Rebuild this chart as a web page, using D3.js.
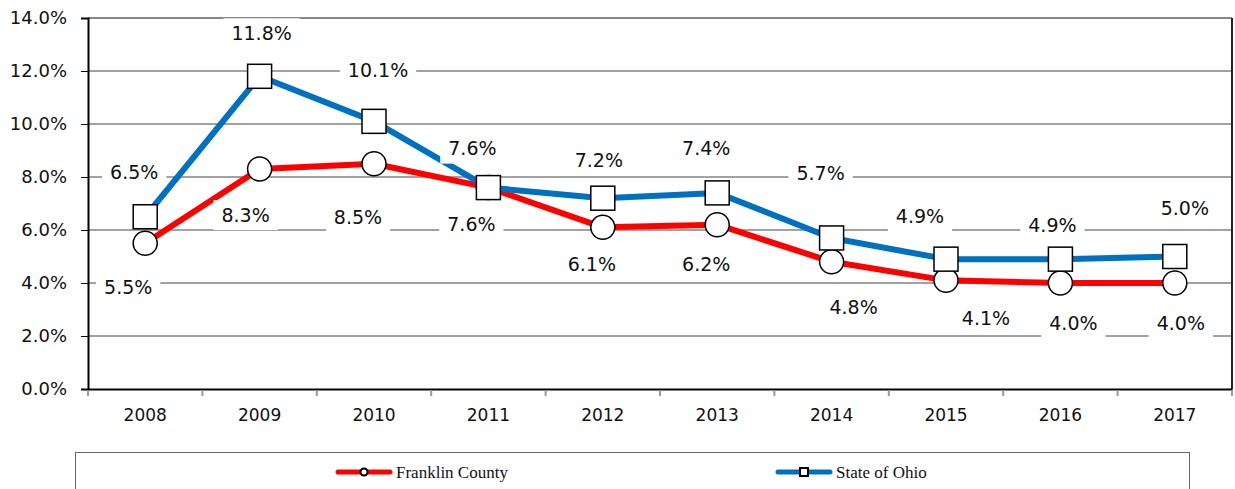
<!DOCTYPE html>
<html>
<head>
<meta charset="utf-8">
<script src="https://cdn.jsdelivr.net/npm/d3@7"></script>
<style>
  body { margin: 0; background: #fff; }
  svg { display: block; }
</style>
</head>
<body>
<div id="chart"></div>
<script>
// chart data
var years = ['2008', '2009', '2010', '2011', '2012', '2013', '2014', '2015', '2016', '2017'];
var franklin = [5.5, 8.3, 8.5, 7.6, 6.1, 6.2, 4.8, 4.1, 4.0, 4.0];
var ohio = [6.5, 11.8, 10.1, 7.6, 7.2, 7.4, 5.7, 4.9, 4.9, 5.0];
var yTicks = [0, 2, 4, 6, 8, 10, 12, 14];

// label placement (offset from point, px)
var ohioLabelOff = [[-11, -45], [2, -43], [4, -51], [-16, -39], [-4, -38], [-11, -45], [-11, -65], [-26, -43], [-8, -34], [10, -48]];
var franklinLabelOff = [[-17, 44], [-14, 46], [-16, 53], [-17, 37], [-11, 37], [-11, 39], [22, 45], [40, 38], [13, 40], [6, 40]];

var width = 1235, height = 489;
var margin = {top: 18, right: 3, bottom: 100, left: 88};

var svg = d3.select('#chart').append('svg')
    .attr('width', width)
    .attr('height', height);

var x = d3.scaleBand()
    .domain(years)
    .range([margin.left, width - margin.right]);

var y = d3.scaleLinear()
    .domain([0, 14])
    .range([height - margin.bottom, margin.top]);

var fontLabel = 'Tahoma, "DejaVu Sans", sans-serif';

// gridlines
svg.append('g').selectAll('line')
    .data(yTicks.filter(function(d) { return d > 0 && d < 14; }))
    .enter().append('line')
    .attr('x1', margin.left).attr('x2', width - margin.right)
    .attr('y1', function(d) { return y(d); })
    .attr('y2', function(d) { return y(d); })
    .style('stroke', '#444')
    .style('stroke-width', 1);

// plot border top and right
svg.append('line')
    .attr('x1', margin.left).attr('x2', width - margin.right)
    .attr('y1', y(14)).attr('y2', y(14))
    .style('stroke', '#888').style('stroke-width', 2);
svg.append('line')
    .attr('x1', width - margin.right).attr('x2', width - margin.right)
    .attr('y1', y(14)).attr('y2', y(0))
    .style('stroke', '#222').style('stroke-width', 2);

// y axis
var yAxis = svg.append('g')
    .attr('transform', 'translate(' + margin.left + ',0)')
    .call(d3.axisLeft(y).tickValues(yTicks).tickSize(7).tickPadding(14)
        .tickFormat(function(d) { return d.toFixed(1) + '%'; }));
yAxis.select('.domain').style('stroke', '#000').style('stroke-width', 2);
yAxis.selectAll('.tick line').style('stroke', '#000');
yAxis.selectAll('text')
    .style('font-family', fontLabel)
    .style('font-size', '18px')
    .style('fill', '#111');

// x axis
var xAxis = svg.append('g')
    .attr('transform', 'translate(0,' + y(0) + ')')
    .call(d3.axisBottom(x).tickSize(0).tickPadding(20));
xAxis.select('.domain').style('stroke', '#000').style('stroke-width', 2);
xAxis.selectAll('text')
    .style('font-family', fontLabel)
    .style('font-size', '17px')
    .style('fill', '#111');

// category boundary ticks
svg.append('g').selectAll('line')
    .data(years.concat(['end']))
    .enter().append('line')
    .attr('x1', function(d, i) { return margin.left + i * x.step(); })
    .attr('x2', function(d, i) { return margin.left + i * x.step(); })
    .attr('y1', y(0) + 1).attr('y2', y(0) + 7)
    .style('stroke', '#999')
    .style('stroke-width', 2);

var line = d3.line()
    .x(function(d, i) { return x(years[i]) + x.bandwidth() / 2; })
    .y(function(d) { return y(d); });

function cx(i) { return x(years[i]) + x.bandwidth() / 2; }

// Franklin County
svg.append('path')
    .datum(franklin)
    .attr('d', line)
    .style('fill', 'none')
    .style('stroke', '#ff0000')
    .style('stroke-width', 6)
    .style('stroke-linejoin', 'round');

svg.append('g').selectAll('circle')
    .data(franklin)
    .enter().append('circle')
    .attr('cx', function(d, i) { return cx(i); })
    .attr('cy', function(d) { return y(d); })
    .attr('r', 12)
    .style('fill', '#fff')
    .style('stroke', '#000')
    .style('stroke-width', 1.5);

// State of Ohio
svg.append('path')
    .datum(ohio)
    .attr('d', line)
    .style('fill', 'none')
    .style('stroke', '#0070c0')
    .style('stroke-width', 6)
    .style('stroke-linejoin', 'round');

svg.append('g').selectAll('rect')
    .data(ohio)
    .enter().append('rect')
    .attr('x', function(d, i) { return cx(i) - 12; })
    .attr('y', function(d) { return y(d) - 12; })
    .attr('width', 24)
    .attr('height', 24)
    .style('fill', '#fff')
    .style('stroke', '#000')
    .style('stroke-width', 1.5);

// data labels with white boxes
function addLabels(values, offsets) {
    var g = svg.append('g');
    values.forEach(function(v, i) {
        var lx = cx(i) + offsets[i][0];
        var ly = y(v) + offsets[i][1];
        var lg = g.append('g').attr('transform', 'translate(' + lx + ',' + ly + ')');
        var box = lg.append('rect').style('fill', '#fff');
        var t = lg.append('text')
            .attr('text-anchor', 'middle')
            .attr('dy', '0.36em')
            .style('font-family', fontLabel)
            .style('font-size', '19px')
            .style('fill', '#111')
            .text(v.toFixed(1) + '%');
        var bb = t.node().getBBox();
        box.attr('x', bb.x - 8).attr('y', -15)
            .attr('width', bb.width + 16).attr('height', 30);
    });
}
addLabels(ohio, ohioLabelOff);
addLabels(franklin, franklinLabelOff);

// legend
var legend = svg.append('g');
legend.append('rect')
    .attr('x', 75.5).attr('y', 452.5)
    .attr('width', 1114).attr('height', 45)
    .style('fill', '#fff')
    .style('stroke', '#666')
    .style('stroke-width', 1);

var legendItems = [
    {name: 'Franklin County', color: '#ff0000', shape: 'circle', x: 336},
    {name: 'State of Ohio', color: '#0070c0', shape: 'square', x: 776}
];
legendItems.forEach(function(it) {
    var gy = 472;
    legend.append('line')
        .attr('x1', it.x + 2).attr('x2', it.x + 54)
        .attr('y1', gy).attr('y2', gy)
        .style('stroke', it.color)
        .style('stroke-width', 5)
        .style('stroke-linecap', 'round');
    if (it.shape == 'circle') {
        legend.append('circle')
            .attr('cx', it.x + 28).attr('cy', gy)
            .attr('r', 3.5)
            .style('fill', '#fff').style('stroke', '#000').style('stroke-width', 2);
    } else {
        legend.append('rect')
            .attr('x', it.x + 24).attr('y', gy - 4)
            .attr('width', 8).attr('height', 8)
            .style('fill', '#fff').style('stroke', '#000').style('stroke-width', 2);
    }
    legend.append('text')
        .attr('x', it.x + 60).attr('y', gy + 6)
        .style('font-family', '"Liberation Serif", "Times New Roman", serif')
        .style('font-size', '17px')
        .style('fill', '#111')
        .text(it.name);
});
</script>
</body>
</html>
